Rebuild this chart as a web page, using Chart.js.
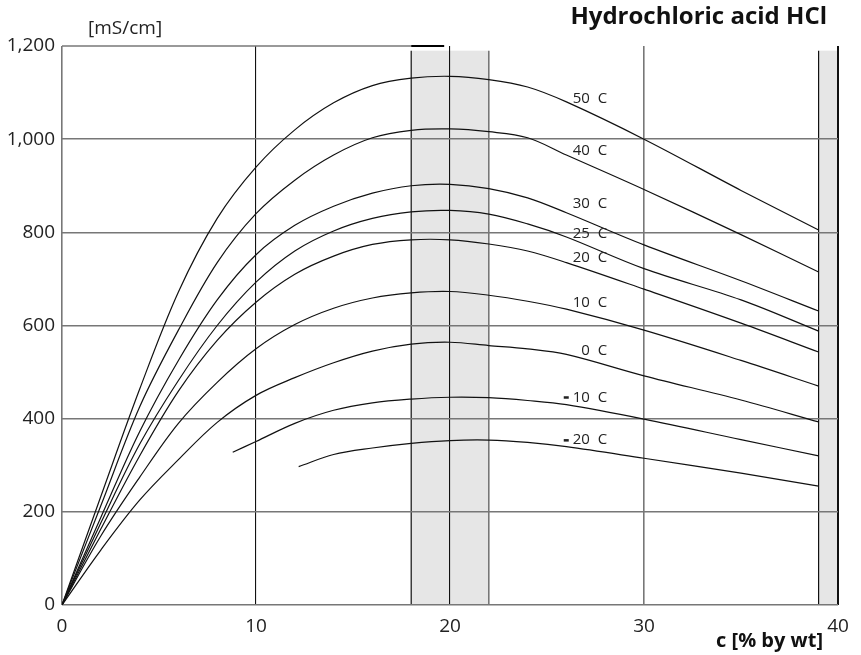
<!DOCTYPE html>
<html>
<head>
<meta charset="utf-8">
<script src="https://cdn.jsdelivr.net/npm/chart.js@4/dist/chart.umd.min.js"></script>
<style>
  html, body { margin: 0; padding: 0; background: #fff; }
  #wrap { width: 861px; height: 655px; }
</style>
</head>
<body>
<div id="wrap"><canvas id="chart" width="861" height="655"></canvas></div>
<script>
// ---------- Data ----------
// concentration c [% by wt]
const conc    = [0, 2, 4, 6, 8, 10, 12, 14, 16, 18, 20, 22, 24, 26, 30, 35, 39];
const concM10 = [8.8, 10, 12, 14, 16, 18, 20, 22, 24, 26, 30, 35, 39];
const concM20 = [12.2, 14, 16, 18, 20, 22, 24, 26, 30, 35, 39];

// conductivity [mS/cm] per temperature
const t50  = [0, 233, 463, 672, 830, 940, 1020, 1078, 1115, 1131, 1135, 1128, 1112, 1080, 1000, 890, 805];
const t40  = [0, 213, 425, 590, 735, 840, 912, 966, 1003, 1019, 1022, 1016, 1003, 966, 892, 795, 715];
const t30  = [0, 188, 372, 525, 655, 752, 815, 856, 884, 900, 903, 894, 874, 842, 773, 696, 631];
const t25  = [0, 176, 345, 482, 600, 693, 760, 803, 830, 844, 847, 839, 818, 790, 722, 655, 588];
const t20  = [0, 163, 320, 459, 568, 650, 710, 749, 774, 784, 784, 775, 760, 735, 678, 605, 543];
const t10  = [0, 148, 274, 390, 478, 550, 602, 637, 659, 670, 673, 665, 652, 635, 590, 525, 470];
const t0   = [0, 118, 225, 312, 392, 450, 488, 520, 545, 560, 564, 557, 550, 538, 492, 440, 393];
const tM10 = [328, 351, 390, 418, 434, 442, 446, 445, 439, 430, 399, 355, 320];
const tM20 = [297, 323, 337, 347, 353, 354, 349, 340, 315, 283, 255];

// curve labels and where they sit (value on y axis)
const tempNames = ['50', '40', '30', '25', '20', '10', '0', '-10', '-20'];
const labelAtY  = [1087, 975, 862, 798, 746, 648, 546, 446, 354];
const labelAtX  = 28.1;

// shaded ranges on the concentration axis
const bands = [[18, 22], [39, 40]];

const xTicks = [0, 10, 20, 30, 40];
const yTicks = [0, 200, 400, 600, 800, 1000, 1200];

// ---------- Helpers ----------
const pts = (xs, ys) => xs.map((x, i) => ({ x, y: ys[i] }));
const FONT = '"Open Sans", "Noto Sans", sans-serif';

const series = [
  pts(conc, t50), pts(conc, t40), pts(conc, t30), pts(conc, t25), pts(conc, t20),
  pts(conc, t10), pts(conc, t0), pts(concM10, tM10), pts(concM20, tM20)
];

const decor = {
  id: 'decor',
  beforeDraw(chart) {
    const { ctx, scales: { x, y } } = chart;
    ctx.save();
    ctx.fillStyle = '#fff';
    ctx.fillRect(0, 0, chart.width, chart.height);
    // grey bands
    bands.forEach(([b0, b1]) => {
      const px0 = x.getPixelForValue(b0), px1 = x.getPixelForValue(b1);
      const top = y.getPixelForValue(1190), bot = y.getPixelForValue(0);
      ctx.fillStyle = '#e6e6e6';
      ctx.fillRect(px0, top, px1 - px0, bot - top);
      ctx.lineWidth = 1.2;
      ctx.strokeStyle = '#111';
      ctx.beginPath(); ctx.moveTo(px0, top); ctx.lineTo(px0, bot); ctx.stroke();
      if (b1 < 40) {
        ctx.strokeStyle = '#777'; ctx.lineWidth = 1.6;
        ctx.beginPath(); ctx.moveTo(px1, top); ctx.lineTo(px1, bot); ctx.stroke();
      }
    });
    ctx.restore();
  },
  afterDatasetsDraw(chart) {
    const { ctx, scales: { x, y } } = chart;
    ctx.save();
    // top edge: grey, then a short black piece
    const yt = y.getPixelForValue(1200);
    ctx.lineWidth = 1.6; ctx.strokeStyle = '#777';
    ctx.beginPath(); ctx.moveTo(x.getPixelForValue(0), yt); ctx.lineTo(x.getPixelForValue(18), yt); ctx.stroke();
    ctx.lineWidth = 2; ctx.strokeStyle = '#000';
    ctx.beginPath(); ctx.moveTo(x.getPixelForValue(18), yt); ctx.lineTo(x.getPixelForValue(19.7), yt); ctx.stroke();

    // curve labels
    ctx.fillStyle = '#222';
    ctx.font = '15px ' + FONT;
    ctx.textBaseline = 'middle';
    ctx.textAlign = 'right';
    tempNames.forEach((t, i) => {
      const px = x.getPixelForValue(labelAtX), py = y.getPixelForValue(labelAtY[i]);
      const neg = t.startsWith('-');
      const txt = (neg ? t.slice(1) : t) + '  C';
      ctx.fillText(txt, px, py);
      if (neg) {
        const w = ctx.measureText(txt).width;
        ctx.fillRect(px - w - 9, py - 1, 5, 2.5);
      }
    });

    // titles
    ctx.textBaseline = 'alphabetic';
    ctx.textAlign = 'right';
    ctx.font = 'bold 24px ' + FONT;
    ctx.fillStyle = '#111';
    ctx.fillText('Hydrochloric acid HCl', 827, 24);
    ctx.font = 'bold 20px ' + FONT;
    ctx.fillText('c [% by wt]', 823, 647);
    ctx.textAlign = 'left';
    ctx.font = '19px ' + FONT;
    ctx.fillStyle = '#222';
    ctx.fillText('[mS/cm]', 88, 34);
    ctx.restore();
  }
};

new Chart(document.getElementById('chart'), {
  type: 'line',
  data: {
    datasets: series.map((d, i) => ({
      label: tempNames[i] + ' C',
      data: d,
      borderColor: '#111',
      borderWidth: 1.2,
      pointRadius: 0,
      fill: false,
      tension: 0.35
    }))
  },
  options: {
    responsive: false,
    devicePixelRatio: 1,
    animation: false,
    layout: { padding: { top: 46, right: 23, left: 0, bottom: 0 } },
    plugins: { legend: { display: false }, tooltip: { enabled: false }, title: { display: false } },
    scales: {
      x: {
        type: 'linear', min: 0, max: 40,
        afterFit: s => { s.height = 50; },
        afterBuildTicks: s => { s.ticks = xTicks.map(v => ({ value: v })); },
        border: { display: false },
        grid: {
          drawTicks: false,
          color: c => (c.tick.value === 10 || c.tick.value === 20 || c.tick.value === 40) ? '#111' : '#777',
          lineWidth: c => (c.tick.value === 10 || c.tick.value === 20) ? 1.1 : (c.tick.value === 40 ? 2 : 1.6)
        },
        ticks: {
          padding: 10,
          color: '#222',
          font: { family: FONT, size: 19 },
          maxRotation: 0,
          callback: v => String(v)
        }
      },
      y: {
        type: 'linear', min: 0, max: 1200,
        afterFit: s => { s.width = 62; },
        afterBuildTicks: s => { s.ticks = yTicks.map(v => ({ value: v })); },
        border: { display: false },
        grid: {
          drawTicks: false,
          color: c => c.tick.value === 1200 ? 'rgba(0,0,0,0)' : '#777',
          lineWidth: 1.6
        },
        ticks: {
          padding: 7,
          color: '#222',
          font: { family: FONT, size: 19 },
          callback: v => v.toLocaleString('en-US')
        }
      }
    }
  },
  plugins: [decor]
});
</script>
</body>
</html>
